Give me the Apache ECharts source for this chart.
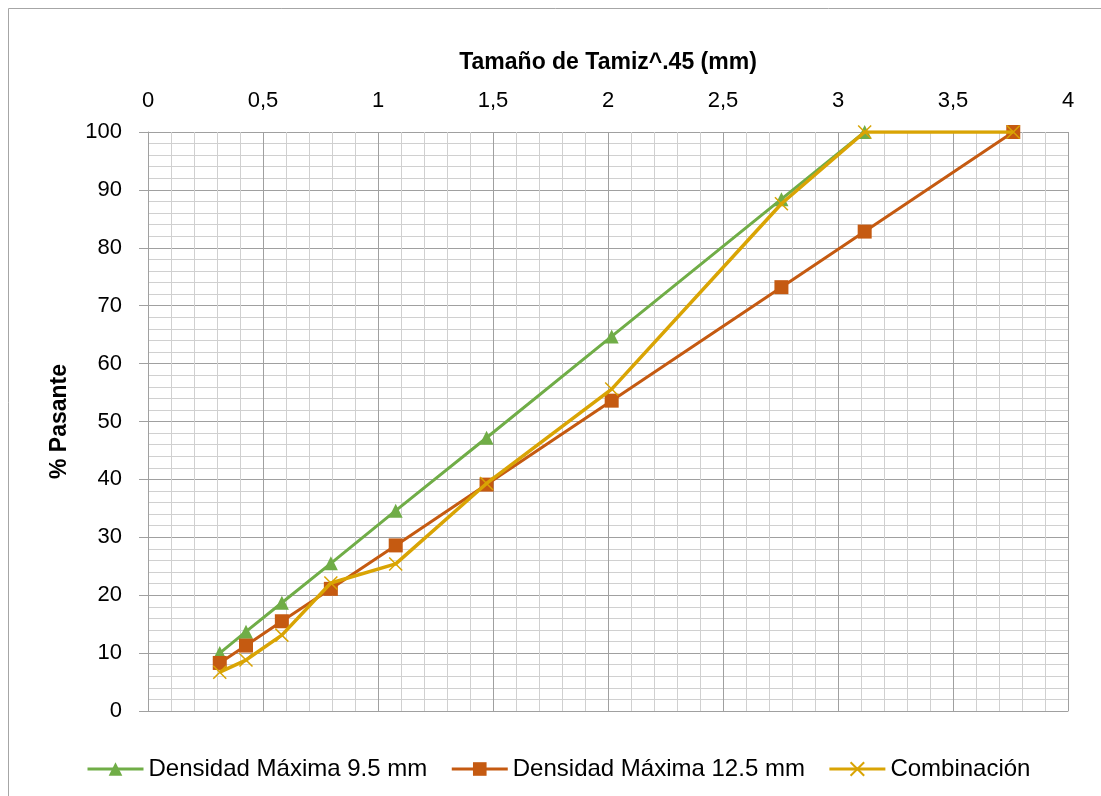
<!DOCTYPE html>
<html>
<head>
<meta charset="utf-8">
<script src="https://cdn.jsdelivr.net/npm/echarts@6/dist/echarts.min.js"></script>
<style>
  html, body { margin: 0; padding: 0; background: #fff; }
  #chart { width: 1101px; height: 796px; }
</style>
</head>
<body>
<div id="chart"></div>
<script>
// Sieve size raised to the 0.45 power (mm^0.45)
const tamiz45 = [0.312, 0.426, 0.582, 0.795, 1.077, 1.472, 2.016, 2.754, 3.116, 3.762];

// Percent passing for each curve
const densidad95 = [10.0, 13.7, 18.7, 25.5, 34.6, 47.2, 64.7, 88.4, 100];
const densidad125 = [8.3, 11.3, 15.5, 21.1, 28.6, 39.1, 53.6, 73.2, 82.8, 100];
const combinacion = [6.7, 8.8, 13.1, 22.1, 25.4, 39.3, 55.6, 87.6, 100, 100];

const seriesNames = ['Densidad Máxima 9.5 mm', 'Densidad Máxima 12.5 mm', 'Combinación'];

const FONT = "'Liberation Sans', Arial, sans-serif";
const pairs = (ys) => ys.map((y, i) => [tamiz45[i], y]);
const comma = (v) => String(v).replace('.', ',');

const crossPath = 'path://M0,0L10,10M10,0L0,10';

const chart = echarts.init(document.getElementById('chart'), null, { renderer: 'canvas' });

chart.setOption({
  backgroundColor: '#ffffff',
  animation: false,
  textStyle: { fontFamily: FONT, color: '#000' },
  graphic: [{
    type: 'rect',
    shape: { x: 8.5, y: 8.5, width: 1100, height: 800 },
    style: { fill: 'none', stroke: '#a6a6a6', lineWidth: 1 },
    silent: true
  }],
  grid: { left: 148, top: 132, right: 33, bottom: 85, containLabel: false },
  legend: {
    left: 81,
    top: 752,
    itemWidth: 56,
    itemHeight: 17,
    itemGap: 23,
    lineStyle: { width: 3 },
    textStyle: { fontFamily: FONT, fontSize: 24, color: '#000' },
    data: seriesNames
  },
  xAxis: {
    type: 'value',
    position: 'top',
    min: 0,
    max: 4,
    interval: 0.5,
    name: 'Tamaño de Tamiz^.45 (mm)',
    nameLocation: 'middle',
    nameGap: 58,
    nameTextStyle: { fontFamily: FONT, fontSize: 23, fontWeight: 'bold', color: '#000' },
    axisLine: { show: true, lineStyle: { color: '#a0a0a0', width: 1 } },
    axisTick: { show: true, length: 8, lineStyle: { color: '#a0a0a0' } },
    axisLabel: { fontFamily: FONT, fontSize: 22, color: '#000', margin: 20, formatter: comma },
    splitLine: { show: true, lineStyle: { color: '#a0a0a0', width: 1 } },
    minorTick: { show: false, splitNumber: 5 },
    minorSplitLine: { show: true, lineStyle: { color: '#d0d0d0', width: 1 } }
  },
  yAxis: {
    type: 'value',
    min: 0,
    max: 100,
    interval: 10,
    name: '% Pasante',
    nameLocation: 'middle',
    nameGap: 77,
    nameTextStyle: { fontFamily: FONT, fontSize: 23, fontWeight: 'bold', color: '#000' },
    axisLine: { show: true, lineStyle: { color: '#a0a0a0', width: 1 } },
    axisTick: { show: true, length: 9, lineStyle: { color: '#a0a0a0' } },
    axisLabel: { fontFamily: FONT, fontSize: 22, color: '#000', margin: 26 },
    splitLine: { show: true, lineStyle: { color: '#a0a0a0', width: 1 } },
    minorTick: { show: false, splitNumber: 5 },
    minorSplitLine: { show: true, lineStyle: { color: '#d0d0d0', width: 1 } }
  },
  series: [
    {
      name: seriesNames[0],
      type: 'line',
      data: pairs(densidad95),
      symbol: 'triangle',
      symbolSize: 14,
      showAllSymbol: true,
      lineStyle: { color: '#70AD47', width: 3 },
      itemStyle: { color: '#70AD47' },
      z: 2
    },
    {
      name: seriesNames[1],
      type: 'line',
      data: pairs(densidad125),
      symbol: 'rect',
      symbolSize: 14,
      showAllSymbol: true,
      lineStyle: { color: '#C55A11', width: 3 },
      itemStyle: { color: '#C55A11' },
      z: 3
    },
    {
      name: seriesNames[2],
      type: 'line',
      data: pairs(combinacion),
      symbol: crossPath,
      symbolSize: 13,
      showAllSymbol: true,
      lineStyle: { color: '#D9A404', width: 3.5 },
      itemStyle: { color: '#D9A404', borderColor: '#D9A404', borderWidth: 1.5 },
      z: 4
    }
  ]
});
</script>
</body>
</html>
